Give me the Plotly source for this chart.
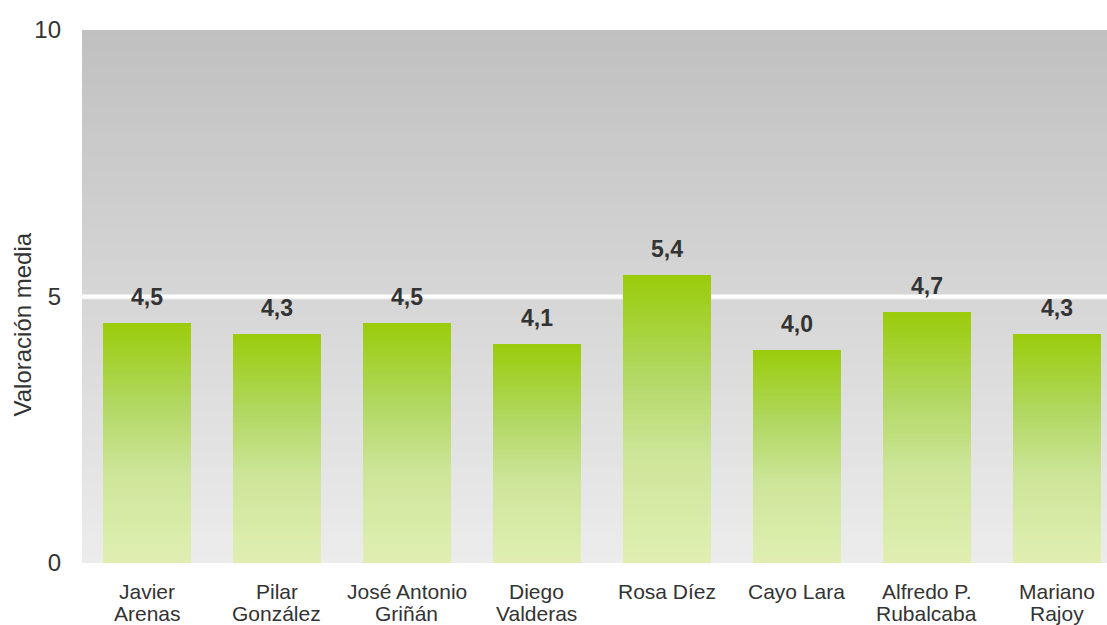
import plotly.graph_objects as go

# Valoración media de cada líder político (escala 0-10)
lideres = ["Javier<br>Arenas", "Pilar<br>González", "José Antonio<br>Griñán",
           "Diego<br>Valderas", "Rosa Díez", "Cayo Lara",
           "Alfredo P.<br>Rubalcaba", "Mariano<br>Rajoy"]
valoracion = [4.5, 4.3, 4.5, 4.1, 5.4, 4.0, 4.7, 4.3]
ticks_y = [0, 5, 10]

FONT = "Liberation Sans, Arial, sans-serif"
TEXT = "#333333"


def mix(c1, c2, t):
    return tuple(a + (b - a) * t for a, b in zip(c1, c2))


def rgb(c):
    return "rgb(%d,%d,%d)" % tuple(round(v) for v in c)


# green gradient of the bars: stops from top (0) to bottom (1)
bar_stops = [(0.0, (154, 204, 10)), (0.35, (178, 216, 100)),
             (0.62, (205, 229, 152)), (1.0, (224, 239, 178))]


def bar_color(t):
    for (t0, c0), (t1, c1) in zip(bar_stops, bar_stops[1:]):
        if t <= t1:
            return mix(c0, c1, (t - t0) / (t1 - t0))
    return bar_stops[-1][1]


fig = go.Figure()

# each bar is built from stacked slices so the colour fades from top to bottom
N = 60
for k in range(N):
    t = 1 - (k + 0.5) / N
    fig.add_trace(go.Bar(
        x=lideres, y=[v / N for v in valoracion],
        marker=dict(color=rgb(bar_color(t)), line=dict(width=0)),
        hoverinfo="skip", showlegend=False))

# grey background gradient of the plotting area; every band reaches the top
# so the next one painted over it leaves no seams
shapes = []
M = 80
top, bottom = (192, 192, 192), (236, 236, 236)
for k in range(M):
    y0 = 10 * k / M
    c = mix(bottom, top, (k + 0.5) / M)
    shapes.append(dict(type="rect", xref="x domain", yref="y", x0=0, x1=1,
                       y0=y0, y1=10, fillcolor=rgb(c), line=dict(width=0),
                       layer="below"))
# reference line at the midpoint of the scale
shapes.append(dict(type="line", xref="x domain", yref="y", x0=0, x1=1,
                   y0=4.955, y1=4.955, line=dict(color="rgb(226,226,226)", width=2),
                   layer="below"))
shapes.append(dict(type="line", xref="x domain", yref="y", x0=0, x1=1,
                   y0=5, y1=5, line=dict(color="white", width=4), layer="below"))

# value labels above the bars
annotations = [
    dict(x=c, y=v, text=f"{v:.1f}".replace(".", ","), showarrow=False,
         yanchor="bottom", yshift=11,
         font=dict(family=FONT, size=23, color=TEXT, weight="bold"))
    for c, v in zip(lideres, valoracion)
]
# category names, one annotation per line for a tight line pitch
for c in lideres:
    for i, line in enumerate(c.split("<br>")):
        annotations.append(dict(
            x=c, y=0, text=line, showarrow=False, yanchor="middle",
            yshift=-28 - 22 * i, font=dict(family=FONT, size=21, color=TEXT)))
annotations.append(dict(
    text="Valoración media", xref="paper", yref="paper", x=-0.0585, y=0.4475,
    textangle=-90, showarrow=False, xanchor="center", yanchor="middle",
    font=dict(family=FONT, size=24, color=TEXT)))

fig.update_layout(
    width=1107, height=625,
    margin=dict(l=82, r=0, t=30, b=62),
    paper_bgcolor="white", plot_bgcolor="white",
    barmode="stack", bargap=0.323,
    shapes=shapes, annotations=annotations,
    font=dict(family=FONT, size=21, color=TEXT),
    xaxis=dict(range=[-0.5, 7.385], showgrid=False, zeroline=False,
               showline=False, ticks="", showticklabels=False),
    yaxis=dict(range=[0, 10], tickvals=ticks_y, showgrid=False, zeroline=False,
               showline=False, ticks="", ticklabelstandoff=20,
               tickfont=dict(size=24)),
)

fig.write_html("out.html")
